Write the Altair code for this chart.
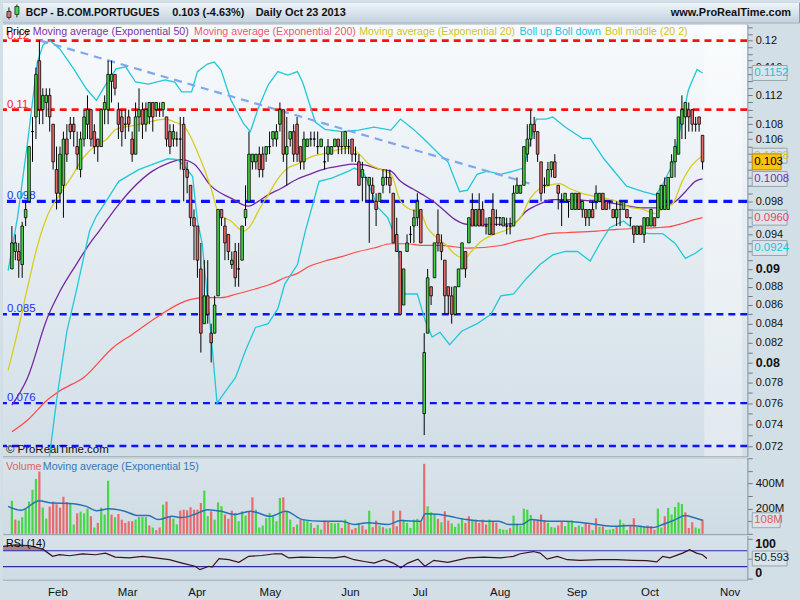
import altair as alt
import pandas as pd

# ---------------- daily candles (trading-day index 0 = 11 Jan 2013) ----------------
opens = [
    .090, .092, .092, .0905, .096, .098, .107, .109, .117, .110,
    .111, .112, .108, .102, .099, .100, .106, .108, .108, .105,
    .102, .106, .108, .110, .107, .106, .105, .110, .110, .114,
    .115, .110, .109, .108, .109, .106, .104, .109, .110, .108,
    .109, .111, .110, .110, .110, .109, .107, .106, .106, .106,
    .108, .102, .100, .096, .095, .090, .084, .087, .083, .083,
    .087, .097, .095, .094, .0905, .092, .090, .091, .096, .098,
    .103, .103, .104, .104, .104, .105, .106, .106, .108, .110,
    .104, .106, .107, .108, .105, .103, .105, .106, .106, .105,
    .105, .103, .104, .104, .105, .106, .105, .105, .105, .106,
    .104, .103, .101, .101, .100, .100, .098, .098, .100, .101,
    .101, .099, .094, .092, .086, .092, .094, .095, .096, .097,
    .075, .083, .088, .089, .094, .093, .091, .088, .087, .085,
    .088, .090, .092, .093, .097, .095, .097, .097, .095, .094,
    .097, .096, .096, .095, .095, .095, .095, .099, .099, .100,
    .104, .106, .108, .107, .103, .100, .100, .102, .103, .100,
    .098, .098, .098, .097, .097, .099, .097, .097, .096, .097,
    .098, .098, .099, .098, .098, .097, .096, .097, .097, .097,
    .096, .095, .094, .095, .094, .095, .095, .096, .096, .097,
    .097, .097, .101, .103, .104, .108, .109, .110, .110, .108,
    .109, .1065,
]
highs = [
    .095, .094, .093, .0955, .098, .105, .109, .116, .120, .113,
    .113, .113, .108, .105, .105, .107, .108, .109, .109, .107,
    .107, .110, .112, .110, .108, .106, .110, .112, .117, .117,
    .115, .111, .110, .110, .110, .107, .111, .113, .111, .111,
    .111, .111, .111, .111, .111, .109, .108, .108, .107, .109,
    .109, .103, .100, .097, .095, .093, .091, .091, .084, .087,
    .097, .097, .096, .094, .092, .093, .093, .095, .100, .107,
    .104, .104, .105, .105, .105, .107, .107, .108, .111, .110,
    .109, .107, .108, .109, .105, .107, .106, .107, .107, .107,
    .106, .105, .106, .105, .106, .106, .107, .107, .106, .106,
    .105, .104, .103, .101, .101, .101, .099, .099, .102, .102,
    .102, .099, .096, .092, .090, .094, .095, .097, .099, .097,
    .083, .090, .088, .093, .097, .094, .091, .088, .088, .088,
    .090, .093, .092, .096, .099, .097, .099, .098, .096, .096,
    .099, .097, .096, .096, .096, .096, .100, .101, .100, .105,
    .108, .110, .109, .107, .103, .101, .103, .103, .104, .100,
    .099, .099, .098, .099, .099, .099, .098, .097, .097, .098,
    .100, .099, .099, .098, .098, .097, .098, .098, .098, .097,
    .096, .095, .095, .095, .096, .096, .097, .096, .099, .100,
    .101, .101, .104, .106, .109, .112, .111, .111, .110, .109,
    .109, .1065,
]
lows = [
    .090, .091, .089, .089, .095, .098, .103, .106, .108, .108,
    .109, .107, .102, .097, .098, .096, .103, .106, .105, .102,
    .101, .105, .106, .105, .104, .103, .105, .108, .108, .111,
    .112, .106, .105, .106, .107, .103, .104, .107, .106, .107,
    .108, .107, .109, .109, .109, .105, .104, .105, .105, .102,
    .098, .099, .095, .091, .089, .081, .084, .084, .080, .083,
    .087, .095, .091, .091, .090, .088, .088, .091, .095, .098,
    .102, .102, .101, .101, .103, .104, .105, .105, .107, .103,
    .100, .105, .103, .103, .102, .102, .105, .105, .105, .104,
    .105, .102, .103, .104, .105, .104, .104, .104, .104, .103,
    .103, .100, .098, .098, .093, .098, .095, .098, .099, .100,
    .099, .093, .092, .085, .086, .092, .093, .093, .095, .093,
    .073, .083, .086, .089, .092, .091, .085, .085, .084, .085,
    .088, .090, .089, .093, .095, .095, .095, .095, .094, .094,
    .094, .095, .095, .095, .094, .094, .095, .099, .099, .100,
    .103, .105, .106, .103, .098, .099, .100, .101, .101, .097,
    .095, .098, .096, .097, .097, .097, .096, .095, .095, .096,
    .097, .098, .097, .097, .097, .096, .095, .095, .097, .096,
    .095, .093, .094, .094, .093, .095, .095, .095, .096, .097,
    .097, .097, .101, .101, .104, .106, .106, .107, .107, .107,
    .107, .102,
]
closes = [
    .093, .093, .091, .095, .097, .105, .107, .115, .110, .112,
    .112, .109, .103, .099, .104, .106, .104, .107, .107, .104,
    .106, .109, .110, .106, .105, .105, .110, .111, .115, .115,
    .113, .108, .107, .108, .108, .104, .109, .110, .108, .110,
    .111, .109, .111, .110, .111, .106, .105, .107, .106, .106,
    .102, .101, .096, .095, .091, .083, .087, .085, .082, .086,
    .097, .096, .093, .092, .091, .089, .090, .095, .097, .104,
    .104, .104, .102, .102, .105, .105, .107, .107, .110, .104,
    .105, .107, .104, .104, .103, .106, .106, .106, .106, .105,
    .106, .103, .105, .105, .106, .105, .105, .107, .105, .104,
    .104, .100, .102, .101, .101, .099, .097, .099, .101, .101,
    .100, .093, .092, .085, .090, .093, .094, .096, .098, .093,
    .081, .089, .087, .093, .093, .092, .087, .087, .085, .088,
    .090, .093, .090, .096, .095, .097, .095, .095, .095, .096,
    .094, .096, .096, .096, .095, .095, .099, .100, .100, .105,
    .106, .108, .107, .104, .099, .100, .102, .103, .101, .099,
    .098, .099, .098, .099, .099, .097, .098, .096, .097, .096,
    .099, .099, .097, .097, .098, .096, .097, .097, .098, .096,
    .096, .094, .095, .094, .096, .096, .097, .095, .099, .100,
    .100, .101, .103, .105, .109, .110, .111, .109, .108, .108,
    .108, .103,
]

# daily volume in millions of shares, and day direction (g = up, r = down)
volumes_m = [
    263, 113, 105, 132, 200, 256, 350, 437, 495, 208,
    121, 216, 256, 235, 208, 295, 253, 245, 74, 163,
    177, 163, 200, 140, 50, 87, 208, 153, 422, 153,
    132, 158, 113, 87, 100, 100, 113, 134, 134, 132,
    66, 50, 29, 50, 232, 256, 140, 121, 76, 184,
    192, 187, 211, 192, 192, 245, 343, 140, 179, 113,
    250, 219, 153, 119, 184, 166, 100, 179, 145, 179,
    290, 192, 50, 66, 124, 166, 140, 100, 285, 290,
    177, 113, 55, 74, 113, 113, 108, 87, 47, 71,
    34, 105, 97, 87, 82, 87, 47, 113, 82, 34,
    47, 87, 66, 34, 184, 53, 105, 66, 53, 42,
    45, 184, 61, 184, 113, 87, 47, 113, 119, 100,
    556, 219, 171, 153, 119, 92, 179, 105, 82, 55,
    82, 126, 87, 140, 113, 113, 87, 113, 74, 113,
    100, 87, 40, 34, 32, 45, 145, 82, 61, 200,
    192, 150, 113, 113, 153, 108, 87, 55, 50, 66,
    100, 61, 97, 105, 53, 66, 55, 87, 74, 29,
    124, 55, 58, 32, 34, 40, 55, 113, 82, 29,
    66, 124, 55, 66, 55, 66, 61, 32, 200, 50,
    140, 206, 153, 213, 250, 237, 171, 47, 92, 50,
    42, 113,
]
volume_dir = "".join([
    "grggggggrg", "grrrrrrggr", "gggrgrgggr", "grrrrrgggg", "rgrrgrrggr",
    "rrrrrrggrg", "ggrrrggggr", "rggggggggr", "ggrgrgggrg", "grrgggrgrr",
    "rgrrgrrgrg", "grrr",
    "gggggrrggg", "rgrrggggrr", "grrrrgrrgg", "grggggggrr", "rrgggrrggg",
    "rggrrgrgrg", "ggrgggrrgg", "grrrggrggg", "ggrrrggr",
])

# month labels sit on the boundary before each month's first session
month_names = ["Feb", "Mar", "Apr", "May", "Jun", "Jul", "Aug", "Sep", "Oct", "Nov"]
month_start_idx = [15, 35, 55, 76, 99, 119, 142, 164, 185, 208]

# indicator readings (trading-day index, value)
ema20_idx = [-1.1, 1.7, 4.6, 7.4, 10.3, 14, 17.4, 20.9, 24.6, 27.4, 30.3, 35.1, 39.7, 44.6, 47.4, 50.3, 54, 58,
             60.3, 63.7, 67.4, 69.7, 71.7, 74.6, 77.4, 80.3, 83.1, 87.4, 91.1, 95.1, 98.3, 100.9, 103.7, 107.4,
             110.3, 113.1, 116, 118.9, 120.9, 123.7, 126, 128.9, 131.7, 133.7, 136.6, 140.3, 145.1, 148, 150.9,
             153.7, 156.6, 159.4, 162.3, 166, 172.3, 176, 179.7, 183.7, 187.4, 189.4, 192.3, 195.1, 198, 201]
ema20_val = [.0792, .0832, .0880, .0926, .0962, .0989, .1011, .1036, .1052, .1059, .1073, .1078, .1083, .1087,
             .1083, .1076, .1043, .0996, .0964, .0956, .0944, .0952, .0968, .0988, .1008, .1022, .1027, .1037,
             .1041, .1046, .1048, .1041, .1028, .1020, .1014, .0980, .0970, .0966, .0948, .0936, .0929, .0917,
             .0912, .0920, .0932, .0940, .0948, .0960, .0984, .0996, .1000, .1002, .0996, .0990, .0984, .0980,
             .0973, .0970, .0965, .0971, .0977, .1005, .1026, .1038]

ema50_idx = [0, 4.6, 10.3, 14, 18.9, 22.6, 25.4, 30.3, 35.1, 40.9, 45.4, 49.4, 53.1, 58, 63.7, 68.9, 71.7, 74.6,
             78.3, 83.1, 86.6, 91.1, 96, 98.9, 102.6, 106.6, 110.3, 113.1, 116.9, 119.7, 122.6, 126, 128.9,
             132.6, 142.3, 146, 149.7, 153.7, 157.4, 161.1, 170.3, 176, 183.7, 187.4, 191.1, 193.1, 196, 198.9, 201]
ema50_val = [.0758, .0785, .0846, .0875, .0906, .0929, .0944, .0972, .0996, .1018, .1028, .1033, .1027, .0999,
             .0984, .0974, .0980, .0988, .0996, .1008, .1014, .1021, .1025, .1027, .1026, .1021, .1018, .1005,
             .0995, .0988, .0980, .0968, .0958, .0952, .0952, .0953, .0968, .0977, .0982, .0982, .0980, .0977,
             .0972, .0972, .0976, .0980, .0992, .1005, .1008]

ema200_idx = [0, 4.6, 10.3, 14, 20.9, 29.4, 35.1, 42.6, 50.3, 56, 60.9, 65.4, 70.3, 75.4, 79.4, 83.1, 86.6, 91.1,
              96, 100.9, 105.4, 110.3, 115.1, 119.7, 124.6, 132.6, 142.3, 146.9, 151.7, 156.6, 161.1, 170.3,
              176, 181.7, 187.4, 191.1, 195.1, 198.9, 201]
ema200_val = [.0733, .0744, .0763, .0772, .0785, .0815, .0829, .0848, .0864, .0868, .0868, .0872, .0877, .0883,
              .0890, .0895, .0903, .0909, .0914, .0920, .0924, .0929, .0929, .0927, .0927, .0924, .0927, .0932,
              .0936, .0941, .0942, .0944, .0946, .0947, .0948, .0949, .0953, .0958, .0960]

boll_up_idx = [-1.1, 1.7, 4.6, 7.4, 9.1, 11.1, 14, 18, 21.7, 24.6, 27.4, 30.3, 33.1, 36, 39.7, 44.6, 47.4, 49.4,
               52.3, 54, 56.9, 58.9, 60.9, 63.7, 67.4, 69.4, 71.7, 74.6, 77.4, 80.3, 83.1, 84.6, 88.3, 91.1, 96,
               100.9, 105.4, 110.3, 113.1, 116.9, 119.7, 124.6, 126.9, 130.3, 132.6, 135.4, 138.3, 142.3, 146,
               148.9, 150.9, 152.6, 155.4, 157.4, 161.1, 166, 168.3, 172.3, 176, 178.9, 183.7, 187.4, 189.4,
               192.3, 195.1, 196.9, 199.4, 201]
boll_up_val = [.0898, .0962, .1057, .1168, .1194, .1200, .1187, .1158, .1129, .1113, .1136, .1158, .1161, .1139,
               .1136, .1142, .1139, .1125, .1125, .1154, .1165, .1168, .1156, .1114, .1081, .1070, .1102, .1135,
               .1154, .1149, .1154, .1139, .1083, .1073, .1070, .1072, .1076, .1072, .1087, .1073, .1061, .1039,
               .1030, .0992, .0994, .1014, .1018, .1014, .1018, .1022, .1057, .1087, .1087, .1090, .1076, .1061,
               .1061, .1034, .1014, .0999, .0992, .0988, .1001, .1027, .1087, .1128, .1157, .1152]

boll_dn_idx = [10.9, 13.1, 16, 18.9, 22.6, 24.6, 27.4, 31.1, 36.9, 41.7, 45.4, 48.3, 50.3, 52.6, 54, 55.4, 58.3,
               59.7, 62.3, 65.1, 68, 70.9, 74.6, 77.4, 79.4, 83.1, 85.4, 89.4, 93.1, 98, 99.7, 102.6, 106.6, 109.4,
               112.3, 114, 118, 120.3, 122.3, 124.6, 127.4, 130.9, 135.4, 139.4, 142.3, 146, 149.7, 153.7, 157.4,
               161.1, 164.6, 168.3, 171.1, 174, 178, 181.7, 185.4, 189.4, 193.1, 196, 198.9, 201]
boll_dn_val = [.0710, .0765, .0832, .0878, .0944, .0962, .0980, .1005, .1020, .1028, .1034, .1033, .1024, .1011,
               .0956, .0929, .0815, .0760, .0772, .0785, .0812, .0836, .0840, .0856, .0883, .0905, .0944, .1005,
               .1009, .1018, .1022, .1014, .0972, .0960, .0929, .0872, .0872, .0843, .0826, .0831, .0818, .0832,
               .0840, .0850, .0870, .0872, .0889, .0905, .0916, .0920, .0920, .0909, .0929, .0948, .0956, .0944,
               .0941, .0941, .0929, .0912, .0918, .0924]

vol_ema_idx = [-1.1, 2.6, 8, 11.1, 18, 21.7, 24.6, 28.3, 32.3, 36.9, 39.7, 42.6, 46.6, 49.4, 53.1, 56.9, 60.9,
               64.6, 69.4, 71.1, 75.1, 79.7, 84.6, 90.3, 96, 99.7, 103.7, 109.4, 113.1, 118.9, 120.3, 124.6,
               127.4, 132.3, 138, 141.7, 144.6, 148.3, 151.1, 156, 160.9, 166.6, 170.3, 175.1, 179.7, 186.6,
               189.4, 193.1, 196, 198.9, 201]
vol_ema_val = [218, 187, 263, 247, 240, 218, 184, 200, 184, 145, 145, 113, 139, 129, 153, 192, 179, 153, 179,
               171, 139, 179, 113, 100, 100, 74, 89, 74, 105, 100, 160, 153, 139, 113, 100, 100, 74, 74, 113,
               100, 100, 87, 74, 60, 66, 50, 74, 113, 145, 126, 108]

rsi_idx = [-1.1, 2.6, 6.6, 10.3, 13.1, 15.1, 18, 21.7, 25.4, 28.3, 31.1, 35.1, 38.9, 42.6, 46.6, 50.3, 54, 55.4,
           58, 58.9, 60.9, 63.7, 66.6, 69.4, 73.1, 76.9, 78.9, 80.9, 84.6, 89.4, 94, 96.9, 99.7, 102.6, 105.4,
           108.3, 110.9, 113.1, 115.1, 118, 120, 122.6, 126.6, 132.3, 136.9, 141.7, 145.4, 147.4, 151.1, 153.1,
           155.1, 158, 160.9, 164.6, 170.3, 175.1, 179.7, 183.7, 186.6, 188.3, 190.3, 194, 196, 198, 199.7, 201]
rsi_val = [80.8, 85, 82.5, 74, 56, 60, 57.5, 62, 60, 64, 54, 52, 56, 52, 47.5, 39, 31, 22.5, 31, 29, 50, 47.5,
           41, 56, 58, 62.5, 62, 52, 54, 53, 52, 56, 47.5, 43, 39, 47.5, 39, 27, 39, 49, 31, 46, 41, 52, 54, 52,
           56, 62.5, 68, 64, 49, 56, 47.5, 46, 47.5, 47.5, 46, 45, 42, 56, 52, 64, 72.5, 64, 60, 50.593]

# support / resistance levels and the falling trend line
red_levels = [0.12, 0.11]
blue_levels = [0.098, 0.085, 0.076, 0.072]
trend_idx = [8.3, 151.7]
trend_val = [0.12, 0.1001]
price_tick_milli = list(range(72, 123))
price_label_milli = [120, 116, 112, 108, 106, 98, 94, 90, 88, 86, 84, 82, 80, 78, 76, 74, 72]
price_bold_milli = [100, 90, 80]

# ---------------- layout ----------------
FONT = "Liberation Sans"
W = 748
HH, PH, VH, RH = 20, 434, 76, 44
X_DOMAIN = [-1.143, 212.57]
P_DOMAIN = [0.071082, 0.122478]
V_DOMAIN = [0, 601]
R_DOMAIN = [-2.5, 107.5]
UP, DOWN = "#46d646", "#e86b6b"
BORDER = "#8e9aa6"
LEG = 10.7

xsc = alt.Scale(domain=X_DOMAIN, nice=False, zero=False)
psc = alt.Scale(type="log", domain=P_DOMAIN, nice=False)
vsc = alt.Scale(domain=V_DOMAIN, nice=False, zero=False)
rsc = alt.Scale(domain=R_DOMAIN, nice=False, zero=False)
ONE = pd.DataFrame({"k": [0]})


def short(v):
    return f"{v:g}"


def grad(top, bottom):
    return alt.LinearGradient(
        gradient="linear", x1=0, x2=0, y1=0, y2=1,
        stops=[alt.GradientStop(color=top, offset=0), alt.GradientStop(color=bottom, offset=1)],
    )


def label(text, x, y, color="#000000", size=LEG, weight="normal", align="left", baseline="middle"):
    return alt.Chart(ONE).mark_text(
        text=text, color=color, font=FONT, fontSize=size, fontWeight=weight, align=align, baseline=baseline
    ).encode(x=alt.value(x), y=alt.value(y))


def backdrop(h, top, bottom):
    return alt.Chart(ONE).mark_rect(fill=grad(top, bottom)).encode(
        x=alt.value(0), x2=alt.value(W), y=alt.value(0), y2=alt.value(h)
    )


# ---------------- header strip ----------------
header = alt.layer(
    alt.Chart(ONE).mark_rect(fill=grad("#eef5f9", "#c3d2dd")).encode(
        x=alt.value(0), x2=alt.value(800), y=alt.value(0), y2=alt.value(HH)),
    alt.Chart(ONE).mark_rule(color="#222222").encode(x=alt.value(6), y=alt.value(5), y2=alt.value(17)),
    alt.Chart(ONE).mark_rect(fill=DOWN, stroke="#222222", strokeWidth=0.8).encode(
        x=alt.value(4), x2=alt.value(8), y=alt.value(9), y2=alt.value(15)),
    alt.Chart(ONE).mark_rule(color="#222222").encode(x=alt.value(14), y=alt.value(2), y2=alt.value(15)),
    alt.Chart(ONE).mark_rect(fill=UP, stroke="#222222", strokeWidth=0.8).encode(
        x=alt.value(12), x2=alt.value(16), y=alt.value(4), y2=alt.value(12)),
    label("BCP - B.COM.PORTUGUES", 23, 11, "#111111", 10.4, "bold"),
    label("0.103 (-4.63%)", 170, 11, "#111111", 11, "bold"),
    label("Daily  Oct 23 2013", 254, 11, "#111111", 11, "bold"),
    label("www.ProRealTime.com", 792, 11, "#111111", 11, "bold", align="right"),
).properties(width=800, height=HH)

# ---------------- price panel ----------------
candles = pd.DataFrame({"i": list(range(len(closes))), "o": opens, "h": highs, "l": lows, "c": closes})
candles["d"] = ["up" if c >= o else "down" for o, c in zip(opens, closes)]

label_expr = (
    "indexof(" + str(price_label_milli) + ", round(datum.value*1000)) >= 0 ? format(datum.value, '.3~f') : ''"
)
bold_expr = "indexof(" + str(price_bold_milli) + ", round(datum.value*1000)) >= 0 ? 'bold' : 'normal'"
size_expr = "indexof(" + str(price_bold_milli) + ", round(datum.value*1000)) >= 0 ? 12.5 : 11"
PAX = alt.Axis(
    orient="right", values=[m / 1000 for m in price_tick_milli], labelExpr=label_expr, title=None, grid=False,
    domainColor=BORDER, tickColor="#707c88", tickSize=5, labelPadding=3, labelFont=FONT,
    labelFontSize={"expr": size_expr}, labelFontWeight={"expr": bold_expr}, labelColor="#111111",
    labelOverlap=False, labelBound=False, labelFlush=False,
)


def PY(field):
    return alt.Y(field, scale=psc, axis=PAX)


def PX(field):
    return alt.X(field, scale=xsc, axis=None)


def pline(xs, ys, color, width, dash=None, interp="linear"):
    kw = dict(color=color, strokeWidth=width, clip=True, interpolate=interp)
    if dash:
        kw["strokeDash"] = dash
    return alt.Chart(pd.DataFrame({"i": xs, "v": ys})).mark_line(**kw).encode(x=PX("i:Q"), y=PY("v:Q"))


def level(vals, color, width, dash):
    return alt.Chart(pd.DataFrame({"v": vals})).mark_rule(color=color, strokeWidth=width, strokeDash=dash).encode(
        y=PY("v:Q"))


def level_text(vals, color):
    df = pd.DataFrame({"v": vals, "t": [short(v) for v in vals]})
    return alt.Chart(df).mark_text(color=color, font=FONT, fontSize=11.5, align="left", baseline="alphabetic",
                                   dy=-2).encode(x=alt.value(4), y=PY("v:Q"), text="t:N")


# the empty slots after the last session are drawn a little lighter
future = alt.Chart(pd.DataFrame({"a": [len(closes) - 0.5], "b": [X_DOMAIN[1]]})).mark_rect(
    fill="#ffffff", opacity=0.35).encode(x=PX("a:Q"), x2="b:Q", y=alt.value(0), y2=alt.value(PH))

wicks = alt.Chart(candles).mark_rule(color="#000000", strokeWidth=1).encode(
    x=PX("i:Q"), y=PY("l:Q"), y2="h:Q")
bodies = alt.Chart(candles).mark_bar(size=2.6, stroke="#000000", strokeWidth=0.8).encode(
    x=PX("i:Q"), y=PY("o:Q"), y2="c:Q",
    fill=alt.Fill("d:N", scale=alt.Scale(domain=["up", "down"], range=[UP, DOWN]), legend=None))

tag_vals = [boll_up_val[-1], ema20_val[-1], ema50_val[-1], ema200_val[-1], boll_dn_val[-1]]
tag_df = pd.DataFrame({
    "v": tag_vals,
    "t": [f"{v:.4f}" for v in tag_vals],
    "c": ["#22c4d6", "#d2c21a", "#7d2ea8", "#f2425e", "#22c4d6"],
})
tag_boxes = alt.Chart(tag_df).mark_rect(fill="#d9e4eb", stroke="#97a3ad", strokeWidth=1, yOffset=-7.5,
                                        y2Offset=7.5).encode(
    x=alt.value(753), x2=alt.value(788), y=PY("v:Q"), y2="v:Q")
tag_text = alt.Chart(tag_df).mark_text(font=FONT, fontSize=11.5, align="left", baseline="middle").encode(
    x=alt.value(755), y=PY("v:Q"), text="t:N", color=alt.Color("c:N", scale=None))
px_df = pd.DataFrame({"v": [closes[-1]], "t": [f"{closes[-1]:.3f}"]})
px_box = alt.Chart(px_df).mark_rect(fill="#ffc20f", stroke="#b08a10", strokeWidth=1, yOffset=-8,
                                    y2Offset=8).encode(
    x=alt.value(753), x2=alt.value(782), y=PY("v:Q"), y2="v:Q")
px_text = alt.Chart(px_df).mark_text(font=FONT, fontSize=11.5, align="left", baseline="middle",
                                     color="#000000").encode(
    x=alt.value(755), y=PY("v:Q"), text="t:N")

price = alt.layer(
    backdrop(PH, "#f8fbfd", "#d2dee7"),
    future,
    level(red_levels, "#ff1010", 2.6, [7, 5]),
    level([0.098], "#0a14ff", 3.4, [9, 6]),
    level([0.085, 0.076, 0.072], "#0a14ff", 2.4, [7, 5]),
    level_text(red_levels, "#ff2020"),
    level_text([0.098, 0.085, 0.076], "#2030ff"),
    pline(ema200_idx, ema200_val, "#ff4848", 1.2, interp="monotone"),
    pline(ema50_idx, ema50_val, "#7428a0", 1.3, interp="monotone"),
    pline(boll_up_idx, boll_up_val, "#22c8d8", 1.3),
    pline(boll_dn_idx, boll_dn_val, "#22c8d8", 1.3),
    pline(ema20_idx, ema20_val, "#d8cc1c", 1.3, interp="monotone"),
    pline(trend_idx, trend_val, "#7ea6f2", 2.2, dash=[8, 6]),
    wicks,
    bodies,
    label("Price", 3, 8),
    label("Moving average (Exponential 50)", 30, 8, "#7a34a4"),
    label("Moving average (Exponential 200)", 192, 8, "#f0566e"),
    label("Moving average (Exponential 20)", 358, 8, "#d2c424"),
    label("Boll up Boll down", 519, 8, "#22c4d6"),
    label("Boll middle (20 2)", 605, 8, "#d2c424"),
    label("\u00a9 ProRealTime.com", 3, 428, "#111111", 11.5),
    tag_boxes, tag_text, px_box, px_text,
).properties(width=W, height=PH)

# ---------------- volume panel ----------------
VAX = alt.Axis(orient="right", values=[0, 100, 200, 300, 400, 500, 600], title=None, grid=False,
               labelExpr="datum.value == 200 || datum.value == 400 ? datum.value + 'M' : ''",
               domainColor=BORDER, tickColor="#707c88", tickSize=5, labelPadding=3, labelFont=FONT,
               labelFontSize=11.5, labelColor="#111111", labelOverlap=False, labelBound=False)


def VY(field):
    return alt.Y(field, scale=vsc, axis=VAX)


vol_df = pd.DataFrame({"i": list(range(len(volumes_m))), "v": volumes_m, "d": list(volume_dir)})
vbars = alt.Chart(vol_df).mark_bar(size=2.2).encode(
    x=PX("i:Q"), y=VY("v:Q"),
    color=alt.Color("d:N", scale=alt.Scale(domain=["g", "r"], range=[UP, DOWN]), legend=None))
vema = alt.Chart(pd.DataFrame({"i": vol_ema_idx, "v": vol_ema_val})).mark_line(
    color="#2472b4", strokeWidth=1.5, interpolate="monotone", clip=True).encode(x=PX("i:Q"), y=VY("v:Q"))
vtag_df = pd.DataFrame({"v": [vol_ema_val[-1]], "t": [f"{vol_ema_val[-1]}M"]})
vtag_box = alt.Chart(vtag_df).mark_rect(fill="#d9e4eb", stroke="#97a3ad", strokeWidth=1, yOffset=-7.5,
                                        y2Offset=7.5).encode(
    x=alt.value(753), x2=alt.value(781), y=VY("v:Q"), y2="v:Q")
vtag_text = alt.Chart(vtag_df).mark_text(font=FONT, fontSize=11.5, align="left", baseline="middle",
                                         color="#e25c5c").encode(x=alt.value(755), y=VY("v:Q"), text="t:N")

volume = alt.layer(
    backdrop(VH, "#d8e3ea", "#d0dce5"),
    vbars, vema,
    label("Volume", 3, 9, "#e06262"),
    label("Moving average (Exponential 15)", 40, 9, "#3677b4"),
    vtag_box, vtag_text,
).properties(width=W, height=VH)

# ---------------- RSI panel ----------------
month_edges = [i - 0.5 for i in month_start_idx]
x_label_expr = " : ".join(f"datum.value == {e} ? '{m}'" for e, m in zip(month_edges, month_names)) + " : ''"
XAX = alt.Axis(orient="bottom", values=month_edges, labelExpr=x_label_expr, title=None, grid=False,
               domain=False, ticks=False, labelPadding=7, labelFont=FONT, labelFontSize=11.5,
               labelColor="#111111", labelOverlap=False, labelFlush=False)
RAX = alt.Axis(orient="right", values=[0, 50, 100], labels=False, title=None, grid=False,
               domainColor=BORDER, tickColor="#707c88", tickSize=5)


def RX(field):
    return alt.X(field, scale=xsc, axis=XAX)


def RY(field):
    return alt.Y(field, scale=rsc, axis=RAX)


rsi_df = pd.DataFrame({"i": rsi_idx, "v": rsi_val})
rsi_hot = rsi_df[(rsi_df["v"] >= 70) & (rsi_df["i"] < 50)]
rsi_fill = alt.Chart(rsi_hot).mark_area(color="#8a3838", opacity=0.55, interpolate="monotone", clip=True).encode(
    x=RX("i:Q"), y=RY("v:Q"), y2=alt.datum(70))
rsi_line = alt.Chart(rsi_df).mark_line(color="#3a1222", strokeWidth=1.2, clip=True).encode(
    x=RX("i:Q"), y=RY("v:Q"))
rsi_bands = alt.Chart(pd.DataFrame({"v": [70, 30]})).mark_rule(color="#2a2aa8", strokeWidth=1.2).encode(
    y=RY("v:Q"))
rtag_df = pd.DataFrame({"v": [rsi_val[-1]], "t": [f"{rsi_val[-1]:.3f}"]})
rtag_box = alt.Chart(rtag_df).mark_rect(fill="#d9e4eb", stroke="#97a3ad", strokeWidth=1, yOffset=-7.5,
                                        y2Offset=7.5).encode(
    x=alt.value(753), x2=alt.value(788), y=RY("v:Q"), y2="v:Q")
rtag_text = alt.Chart(rtag_df).mark_text(font=FONT, fontSize=11.5, align="left", baseline="middle",
                                         color="#222222").encode(x=alt.value(755), y=RY("v:Q"), text="t:N")
rsi_top = alt.Chart(pd.DataFrame({"v": [100], "t": ["100"]})).mark_text(
    font=FONT, fontSize=12.5, fontWeight="bold", align="left", baseline="middle", color="#111111", dy=5).encode(
    x=alt.value(756), y=RY("v:Q"), text="t:N")
rsi_bottom = alt.Chart(pd.DataFrame({"v": [0], "t": ["0"]})).mark_text(
    font=FONT, fontSize=12.5, fontWeight="bold", align="left", baseline="middle", color="#111111", dy=-6).encode(
    x=alt.value(756), y=RY("v:Q"), text="t:N")

rsi = alt.layer(
    backdrop(RH, "#d6e1e9", "#cfdbe4"),
    rsi_fill, rsi_bands, rsi_line,
    label("RSI (14)", 3, 8),
    rtag_box, rtag_text, rsi_top, rsi_bottom,
).properties(width=W, height=RH)

chart = alt.vconcat(header, price, volume, rsi, spacing=2, bounds="flush").properties(
    padding=0, background="#d3dfe7"
).configure_view(stroke=BORDER, strokeWidth=1)

chart.save("out.html", embed_options={"renderer": "svg", "actions": False})
